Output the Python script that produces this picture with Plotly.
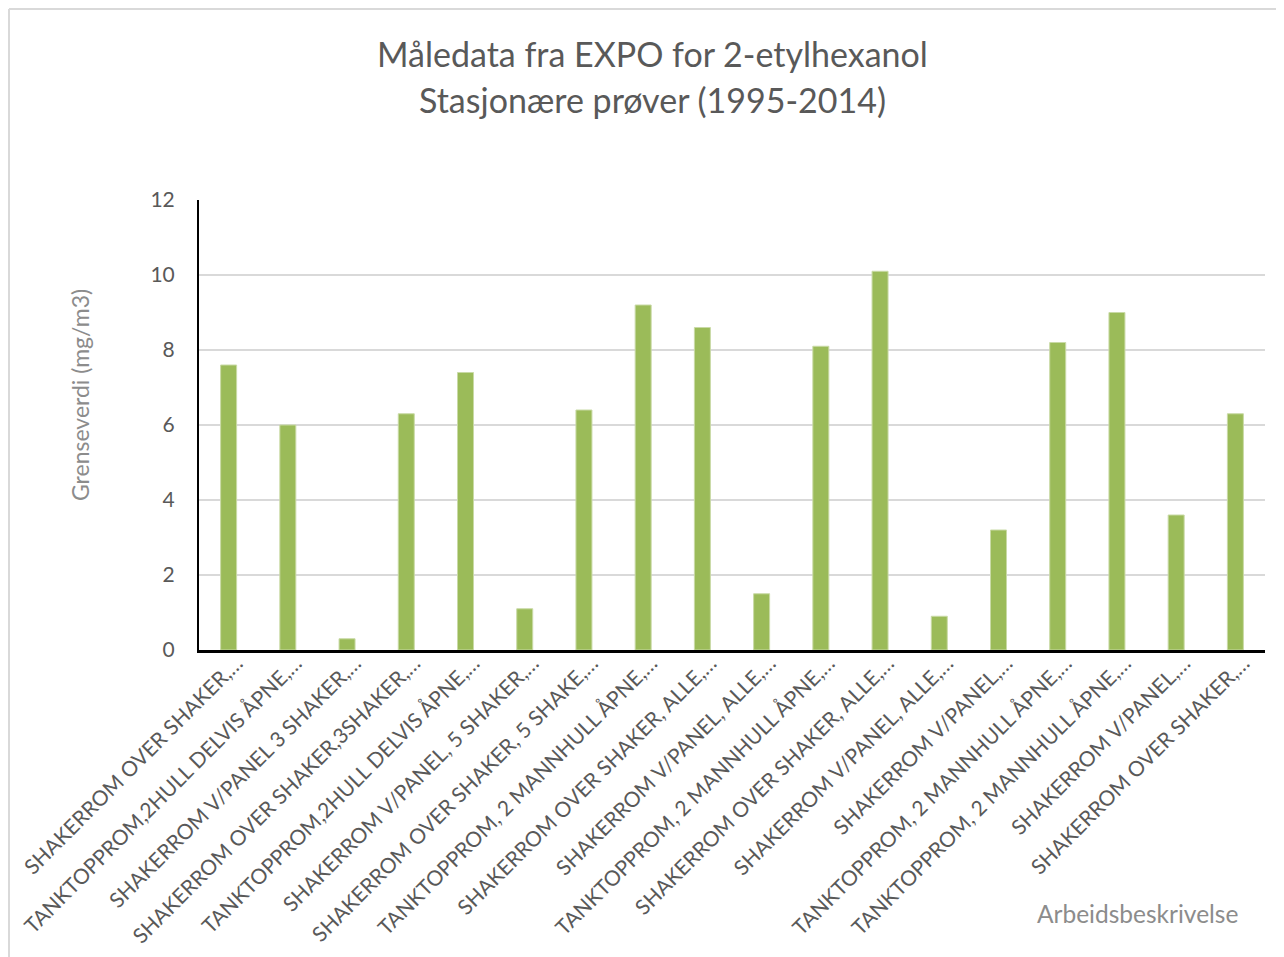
import plotly.graph_objects as go

categories = [
    "SHAKERROM OVER SHAKER,…",
    "TANKTOPPROM,2HULL DELVIS ÅPNE,…",
    "SHAKERROM V/PANEL 3 SHAKER,…",
    "SHAKERROM OVER SHAKER,3SHAKER,…",
    "TANKTOPPROM,2HULL DELVIS ÅPNE,…",
    "SHAKERROM V/PANEL, 5 SHAKER,…",
    "SHAKERROM OVER SHAKER, 5 SHAKE,…",
    "TANKTOPPROM, 2 MANNHULL ÅPNE,…",
    "SHAKERROM OVER SHAKER, ALLE,…",
    "SHAKERROM V/PANEL, ALLE,…",
    "TANKTOPPROM, 2 MANNHULL ÅPNE,…",
    "SHAKERROM OVER SHAKER, ALLE,…",
    "SHAKERROM V/PANEL, ALLE,…",
    "SHAKERROM V/PANEL,…",
    "TANKTOPPROM, 2 MANNHULL ÅPNE,…",
    "TANKTOPPROM, 2 MANNHULL ÅPNE,…",
    "SHAKERROM V/PANEL,…",
    "SHAKERROM OVER SHAKER,…",
]
values = [7.6, 6.0, 0.3, 6.3, 7.4, 1.1, 6.4, 9.2, 8.6, 1.5, 8.1, 10.1, 0.9, 3.2, 8.2, 9.0, 3.6, 6.3]
y_ticks = [0, 2, 4, 6, 8, 10, 12]

title_line1 = "Måledata fra EXPO for 2-etylhexanol"
title_line2 = "Stasjonære prøver (1995-2014)"
y_title = "Grenseverdi (mg/m3)"
x_title = "Arbeidsbeskrivelse"

positions = list(range(len(categories)))

# page body has an 8px margin; work in screenshot pixels and shift
OFF = 8
W, H = 1284 - OFF, 957 - OFF
L, R, T, B = 199 - OFF, 1265 - OFF, 200 - OFF, 650 - OFF

def px(x):
    return (x - OFF - L) / (R - L)

def py(y):
    return (B - (y - OFF)) / (B - T)

FONT = "Lato"
TXT = "#595959"

fig = go.Figure(
    go.Bar(
        x=positions,
        y=values,
        marker=dict(color="#9BBB59", line=dict(color="#C9DAA6", width=1)),
        hoverinfo="y",
    )
)

fig.update_layout(
    width=W,
    height=H,
    margin=dict(l=L, r=W - R, t=T, b=H - B, autoexpand=False),
    paper_bgcolor="white",
    plot_bgcolor="white",
    bargap=0.73,
    showlegend=False,
    font=dict(family=FONT, color=TXT),
    xaxis=dict(
        range=[-0.5, len(categories) - 0.5],
        tickmode="array",
        tickvals=positions,
        ticktext=categories,
        tickangle=-45,
        tickfont=dict(size=21, color=TXT, family=FONT),
        ticklabelshift=8,
        ticklabelstandoff=-10,
        showgrid=False,
        showline=True,
        linecolor="black",
        linewidth=2.5,
        ticks="",
        zeroline=False,
        automargin=False,
    ),
    yaxis=dict(
        range=[0, 12],
        tickmode="array",
        tickvals=y_ticks,
        tickfont=dict(size=21, color=TXT, family=FONT),
        showgrid=True,
        gridcolor="#D9D9D9",
        gridwidth=1.5,
        showline=True,
        linecolor="black",
        linewidth=2,
        ticks="",
        ticklabelstandoff=18,
        zeroline=False,
        automargin=False,
    ),
    annotations=[
        dict(text=title_line1, x=px(652), y=py(53), xref="paper", yref="paper",
             showarrow=False, font=dict(size=34, color=TXT, family=FONT), xanchor="center", yanchor="middle"),
        dict(text=title_line2, x=px(652), y=py(100), xref="paper", yref="paper",
             showarrow=False, font=dict(size=34, color=TXT, family=FONT), xanchor="center", yanchor="middle"),
        dict(text=y_title, x=px(80), y=py(395), xref="paper", yref="paper", textangle=-90,
             showarrow=False, font=dict(size=23, color="#8C8C8C", family=FONT), xanchor="center", yanchor="middle"),
        dict(text=x_title, x=px(1137), y=py(913), xref="paper", yref="paper",
             showarrow=False, font=dict(size=24.5, color="#8C8C8C", family=FONT), xanchor="center", yanchor="middle"),
    ],
    shapes=[
        dict(type="line", xref="paper", yref="paper", x0=px(9), x1=px(9), y0=py(9), y1=py(965),
             line=dict(color="#D9D9D9", width=2)),
        dict(type="line", xref="paper", yref="paper", x0=px(9), x1=px(1290), y0=py(9), y1=py(9),
             line=dict(color="#D9D9D9", width=2)),
    ],
)

fig.write_html("out.html")
